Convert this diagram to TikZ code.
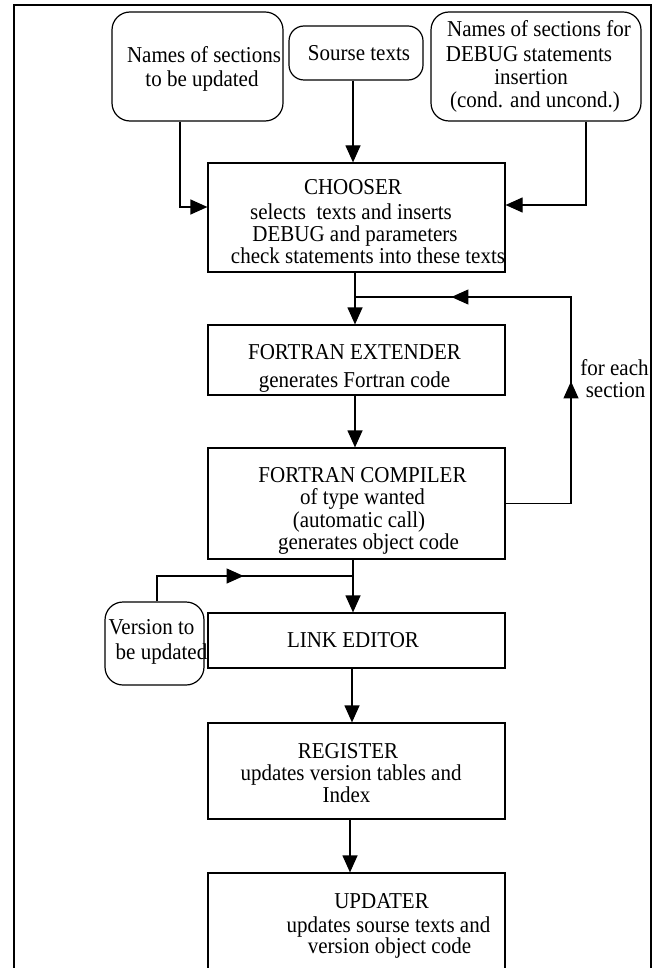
\documentclass[tikz,border=0pt]{standalone}
\usepackage{fontspec}
\setmainfont[FakeStretch=0.925]{Liberation Serif}
\usetikzlibrary{arrows.meta,decorations.markings}

\tikzset{
  box/.style={draw, line width=1.2pt, inner sep=0pt},
  rbox/.style={box, rounded corners=18pt},
  txt/.style={anchor=base, inner sep=0pt, font=\fontsize{22.7}{24}\selectfont},
  link/.style={line width=1.2pt},
  arr/.style={link, -{Triangle[length=17pt,width=15pt]}},
  midarrow/.style={link, postaction={decorate},
    decoration={markings, mark=at position #1 with {\arrow{Triangle[length=17pt,width=15pt]}}}},
}

\begin{document}
\begin{tikzpicture}[x=1pt,y=-1pt]
\useasboundingbox (0,0) rectangle (660,968);
\clip (0,0) rectangle (660,968);

% outer frame, open at the bottom
\draw[line width=2.5pt] (14,990) -- (14,5) -- (651,5) -- (651,990);

% inputs
\node[rbox, minimum width=171pt, minimum height=109pt] (na) at (197.5,66.5) {};
\node[rbox, rounded corners=15pt, minimum width=134pt, minimum height=54pt] (src) at (356,53) {};
\node[rbox, minimum width=210pt, minimum height=109pt] (nc) at (536,66.5) {};

\node[txt] (na1) at (204,63) {Names of sections};
\node[txt] (na2) at (202,87) {to be updated};
\node[txt] (src1) at (359,61) {Sourse texts};
\node[txt] (nc1) at (539,37) {Names of sections for};
\node[txt] (nc2) at (529,62) {DEBUG statements};
\node[txt] (nc3) at (531,85) {insertion};
\node[txt] (nc4) at (535,108) {(cond. and uncond.)};

% processing stages
\node[box, minimum width=297pt, minimum height=109pt] (ch) at (356.5,217.5) {};
\node[box, minimum width=297pt, minimum height=70pt] (ex) at (356.5,360) {};
\node[box, minimum width=297pt, minimum height=111pt] (co) at (356.5,503.5) {};
\node[box, minimum width=297pt, minimum height=55pt] (le) at (356.5,640.5) {};
\node[box, minimum width=297pt, minimum height=96pt] (re) at (356.5,771) {};
\node[box, minimum width=297pt, minimum height=127pt] (up) at (356.5,936.5) {};
\node[rbox, minimum width=99pt, minimum height=83pt] (ver) at (154.5,643.5) {};

\node[txt] (ch1) at (353,195) {CHOOSER};
\node[txt] (ch2) at (351,220) {selects\ \ texts and inserts};
\node[txt] (ch3) at (355,242) {DEBUG and parameters};
\node[txt] (ch4) at (368,263) {check statements into these texts};

\node[txt] (ex1) at (354.5,359) {FORTRAN EXTENDER};
\node[txt] (ex2) at (354.5,387) {generates Fortran code};

\node[txt] (co1) at (362.5,482) {FORTRAN COMPILER};
\node[txt] (co2) at (362.5,504) {of type wanted};
\node[txt] (co3) at (359,527) {(automatic call)};
\node[txt] (co4) at (368.5,549) {generates object code};

\node[txt] (ver1) at (151.5,634) {Version to};
\node[txt] (ver2) at (161.5,659) {be updated};

\node[txt] (le1) at (353,647) {LINK EDITOR};

\node[txt] (re1) at (348,758) {REGISTER};
\node[txt] (re2) at (351,780) {updates version tables and};
\node[txt] (re3) at (346.5,802) {Index};

\node[txt] (up1) at (381.5,908) {UPDATER};
\node[txt] (up2) at (388.5,932) {updates sourse texts and};
\node[txt] (up3) at (389.5,953) {version object code};

\node[txt] (fe1) at (614.5,375) {for each};
\node[txt] (fe2) at (615.5,397) {section};

% junctions on the main flow
\coordinate (j1) at (355,297);
\coordinate (j2) at (353,576);

% connectors
\draw[arr] ([xshift=-3pt]src.south) -- ([xshift=-3pt]src.south |- ch.north);
\draw[arr] ([xshift=-17.5pt]na.south) |- ([yshift=10.5pt]ch.west);
\draw[arr] ([xshift=50pt]nc.south) |- ([yshift=12.5pt]ch.east);
\draw[arr] ([xshift=-1.5pt]ch.south) -- ([xshift=-1.5pt]ex.north);
\draw[arr] ([xshift=-1.5pt]ex.south) -- ([xshift=-1.5pt]co.north);
% per-section loop back from the compiler
\draw[link, postaction={decorate}, decoration={markings,
    mark=at position 187.5pt with {\arrow{Triangle[length=17pt,width=15pt]}},
    mark=at position 391.5pt with {\arrow{Triangle[length=17pt,width=15pt]}}}]
  (co.east) -- (571,503.5) |- (j1);
\draw[arr] ([xshift=-3.5pt]co.south) -- ([xshift=-3.5pt]le.north);
\draw[midarrow=112pt] ([xshift=2.5pt]ver.north) |- (j2);
\draw[arr] ([xshift=-4.5pt]le.south) -- ([xshift=-4.5pt]re.north);
\draw[arr] ([xshift=-6.5pt]re.south) -- ([xshift=-6.5pt]up.north);
\end{tikzpicture}
\end{document}
